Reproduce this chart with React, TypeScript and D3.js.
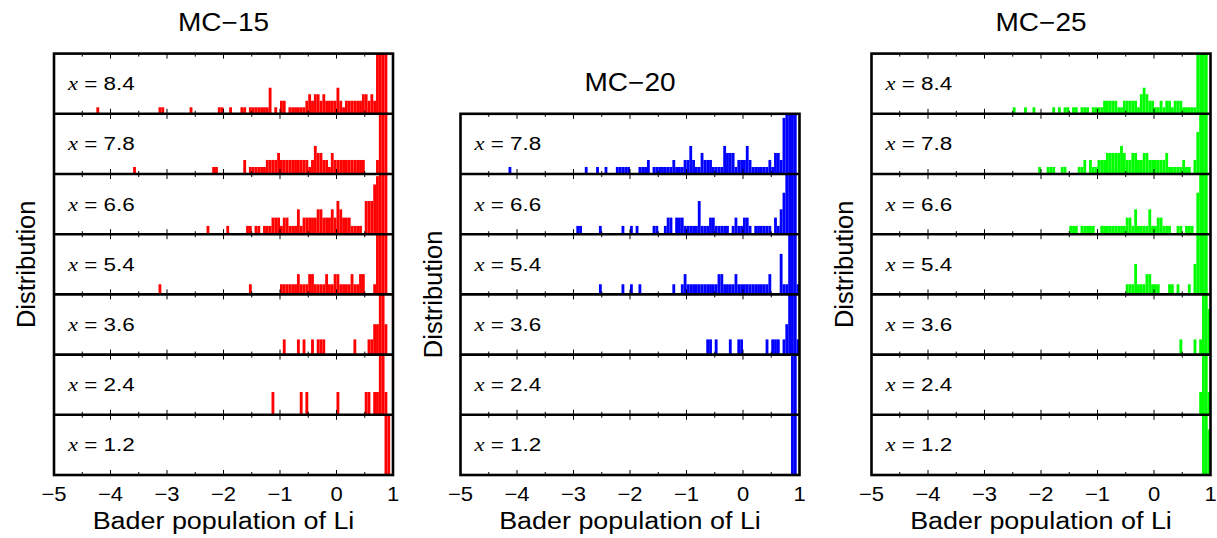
import React from "react";
import * as d3 from "d3";

// ---------- DATA ----------
const BIN = 0.05; // histogram bin width (Bader population units)
const xTickValues = [-5, -4, -3, -2, -1, 0, 1];
const panelTitles = ["MC−15", "MC−20", "MC−25"];
const mc15Labels = [8.4, 7.8, 6.6, 5.4, 3.6, 2.4, 1.2];
const mc20Labels = [7.8, 6.6, 5.4, 3.6, 2.4, 1.2];
const mc25Labels = [8.4, 7.8, 6.6, 5.4, 3.6, 2.4, 1.2];

// [bin start, count]
const mc15_84: [number, number][] = [[-4.25,1],[-3.15,1],[-3.1,1],[-2.6,1],[-2.1,1],[-2.05,1],[-1.9,1],[-1.7,1],[-1.65,1],[-1.55,1],[-1.5,1],[-1.45,1],[-1.4,1],[-1.35,1],[-1.3,1],[-1.25,1],[-1.2,4],[-1.1,1],[-1.0,2],[-0.95,2],[-0.85,1],[-0.8,1],[-0.75,1],[-0.7,1],[-0.65,1],[-0.6,1],[-0.55,2],[-0.5,3],[-0.45,2],[-0.4,3],[-0.35,3],[-0.3,2],[-0.25,3],[-0.2,2],[-0.15,2],[-0.1,2],[-0.05,2],[0,4],[0.05,2],[0.1,1],[0.15,2],[0.2,2],[0.25,2],[0.3,2],[0.35,2],[0.4,2],[0.45,3],[0.5,3],[0.55,2],[0.6,3],[0.65,2],[0.7,30],[0.75,30],[0.8,30],[0.85,30]];
const mc15_78: [number, number][] = [[-3.6,1],[-2.2,1],[-2.15,1],[-1.65,2],[-1.55,1],[-1.5,1],[-1.45,1],[-1.4,1],[-1.35,1],[-1.3,1],[-1.25,2],[-1.2,2],[-1.15,2],[-1.1,2],[-1.05,3],[-1.0,2],[-0.95,2],[-0.9,2],[-0.85,2],[-0.8,2],[-0.75,2],[-0.7,2],[-0.65,2],[-0.6,2],[-0.55,2],[-0.5,1],[-0.45,2],[-0.4,4],[-0.35,3],[-0.3,3],[-0.25,2],[-0.2,2],[-0.15,1],[-0.1,3],[-0.05,2],[0,2],[0.05,2],[0.1,2],[0.15,2],[0.2,2],[0.25,2],[0.3,2],[0.35,2],[0.4,2],[0.45,2],[0.7,2],[0.75,30],[0.8,30],[0.85,30]];
const mc15_66: [number, number][] = [[-2.3,1],[-1.95,1],[-1.6,1],[-1.55,1],[-1.45,1],[-1.4,1],[-1.3,1],[-1.25,1],[-1.2,1],[-1.15,2],[-1.1,2],[-1.05,2],[-1.0,1],[-0.95,2],[-0.9,2],[-0.85,1],[-0.8,1],[-0.75,1],[-0.7,3],[-0.65,1],[-0.6,2],[-0.55,2],[-0.5,2],[-0.45,2],[-0.4,2],[-0.35,3],[-0.3,3],[-0.25,2],[-0.2,2],[-0.15,2],[-0.1,3],[-0.05,2],[0,4],[0.05,3],[0.1,2],[0.15,2],[0.2,2],[0.25,1],[0.3,1],[0.35,1],[0.4,1],[0.5,4],[0.55,4],[0.6,4],[0.65,6],[0.7,7],[0.75,30],[0.8,30],[0.85,30]];
const mc15_54: [number, number][] = [[-3.15,1],[-1.55,1],[-1.0,1],[-0.95,1],[-0.9,1],[-0.85,1],[-0.8,1],[-0.75,1],[-0.7,2],[-0.65,1],[-0.6,1],[-0.55,1],[-0.5,2],[-0.45,2],[-0.4,1],[-0.35,1],[-0.3,1],[-0.25,1],[-0.2,2],[-0.15,1],[-0.1,1],[-0.05,2],[0,2],[0.05,1],[0.1,1],[0.15,1],[0.2,1],[0.25,2],[0.3,1],[0.35,1],[0.4,2],[0.45,2],[0.65,1],[0.7,6],[0.75,30],[0.8,30],[0.85,30]];
const mc15_36: [number, number][] = [[-0.95,1],[-0.7,1],[-0.6,1],[-0.45,1],[-0.35,1],[-0.3,1],[-0.25,1],[0.3,1],[0.55,1],[0.6,1],[0.65,2],[0.7,2],[0.75,30],[0.8,30],[0.85,2]];
const mc15_24: [number, number][] = [[-1.15,1],[-0.65,1],[-0.55,1],[0,1],[0.5,1],[0.55,1],[0.65,1],[0.7,1],[0.75,30],[0.8,30],[0.85,1]];
const mc15_12: [number, number][] = [[0.85,30],[0.9,30]];

const mc20_78: [number, number][] = [[-4.15,1],[-2.8,1],[-2.6,1],[-2.45,1],[-2.25,1],[-2.2,1],[-2.15,1],[-2.1,1],[-2.05,1],[-1.85,1],[-1.8,1],[-1.75,1],[-1.7,2],[-1.6,1],[-1.55,1],[-1.5,1],[-1.45,1],[-1.4,1],[-1.35,1],[-1.3,1],[-1.25,2],[-1.2,1],[-1.15,1],[-1.1,1],[-1.05,2],[-1.0,2],[-0.95,4],[-0.9,2],[-0.85,1],[-0.8,1],[-0.75,3],[-0.7,2],[-0.65,2],[-0.6,2],[-0.55,1],[-0.5,1],[-0.45,1],[-0.4,1],[-0.35,4],[-0.3,3],[-0.25,3],[-0.2,3],[-0.15,1],[-0.1,2],[-0.05,2],[0,2],[0.05,4],[0.1,2],[0.15,1],[0.2,1],[0.25,1],[0.3,1],[0.35,1],[0.4,1],[0.45,2],[0.5,1],[0.55,3],[0.6,3],[0.65,2],[0.7,8],[0.75,30],[0.8,30],[0.85,30],[0.9,30]];
const mc20_66: [number, number][] = [[-2.95,1],[-2.9,1],[-2.55,1],[-2.15,1],[-2.0,1],[-1.9,1],[-1.6,1],[-1.55,1],[-1.4,1],[-1.35,2],[-1.3,2],[-1.2,2],[-1.15,2],[-1.1,2],[-1.05,1],[-1.0,1],[-0.95,1],[-0.9,1],[-0.85,1],[-0.8,4],[-0.75,1],[-0.7,1],[-0.65,1],[-0.6,2],[-0.55,2],[-0.5,1],[-0.45,1],[-0.4,1],[-0.35,1],[-0.3,1],[-0.2,1],[-0.15,2],[-0.1,1],[-0.05,1],[0,2],[0.05,2],[0.1,1],[0.2,1],[0.25,1],[0.3,1],[0.35,1],[0.4,1],[0.45,1],[0.55,2],[0.6,1],[0.65,3],[0.7,5],[0.75,8],[0.8,30],[0.85,30],[0.9,30]];
const mc20_54: [number, number][] = [[-2.55,1],[-2.15,1],[-2.0,1],[-1.85,1],[-1.25,1],[-1.1,1],[-1.05,2],[-1.0,1],[-0.95,1],[-0.9,1],[-0.85,1],[-0.8,1],[-0.75,1],[-0.7,1],[-0.65,1],[-0.6,1],[-0.55,1],[-0.5,1],[-0.45,2],[-0.4,2],[-0.35,1],[-0.3,1],[-0.25,1],[-0.2,1],[-0.15,2],[-0.1,1],[-0.05,1],[0,1],[0.05,1],[0.1,1],[0.15,1],[0.2,1],[0.25,1],[0.3,1],[0.35,1],[0.4,1],[0.45,2],[0.65,4],[0.7,1],[0.75,1],[0.8,30],[0.85,30],[0.9,30],[0.95,1]];
const mc20_36: [number, number][] = [[-0.65,1],[-0.6,1],[-0.5,1],[-0.25,1],[-0.1,1],[-0.05,1],[0.4,1],[0.5,1],[0.55,1],[0.6,1],[0.7,1],[0.75,2],[0.8,30],[0.85,30],[0.9,30],[0.95,1]];
const mc20_24: [number, number][] = [[0.85,30],[0.9,30]];
const mc20_12: [number, number][] = [[0.85,30],[0.9,30]];

const mc25_84: [number, number][] = [[-2.5,1],[-2.3,1],[-2.15,1],[-1.8,1],[-1.7,1],[-1.6,1],[-1.55,1],[-1.45,1],[-1.4,1],[-1.3,1],[-1.25,1],[-1.2,1],[-1.1,1],[-1.05,1],[-1.0,1],[-0.95,1],[-0.9,2],[-0.85,2],[-0.8,2],[-0.75,2],[-0.7,2],[-0.65,1],[-0.6,1],[-0.55,2],[-0.5,2],[-0.45,2],[-0.4,2],[-0.35,2],[-0.3,1],[-0.25,3],[-0.2,4],[-0.15,3],[-0.1,2],[-0.05,2],[0,1],[0.05,1],[0.1,2],[0.15,1],[0.2,2],[0.25,2],[0.3,1],[0.35,2],[0.4,2],[0.45,2],[0.5,1],[0.55,1],[0.6,1],[0.65,1],[0.7,1],[0.75,30],[0.8,30],[0.85,30],[0.9,30]];
const mc25_78: [number, number][] = [[-2.05,1],[-1.9,1],[-1.85,1],[-1.8,1],[-1.65,1],[-1.6,1],[-1.35,1],[-1.3,1],[-1.25,2],[-1.15,2],[-1.1,1],[-1.05,1],[-1.0,2],[-0.95,2],[-0.9,2],[-0.85,3],[-0.8,3],[-0.75,3],[-0.7,3],[-0.65,3],[-0.6,4],[-0.55,3],[-0.5,2],[-0.45,2],[-0.4,3],[-0.35,3],[-0.3,2],[-0.25,2],[-0.2,3],[-0.15,3],[-0.1,2],[-0.05,2],[0,2],[0.05,2],[0.1,2],[0.15,2],[0.2,3],[0.25,1],[0.3,1],[0.35,1],[0.4,1],[0.45,1],[0.5,2],[0.55,1],[0.6,1],[0.7,2],[0.75,6],[0.8,30],[0.85,30],[0.9,30]];
const mc25_66: [number, number][] = [[-1.5,1],[-1.45,1],[-1.4,1],[-1.3,1],[-1.25,1],[-1.2,1],[-1.15,1],[-1.1,1],[-0.95,1],[-0.9,1],[-0.85,1],[-0.8,1],[-0.75,1],[-0.7,1],[-0.65,1],[-0.6,1],[-0.55,1],[-0.5,2],[-0.45,2],[-0.4,1],[-0.35,3],[-0.3,1],[-0.25,1],[-0.2,1],[-0.15,1],[-0.1,3],[-0.05,1],[0,1],[0.05,2],[0.1,2],[0.15,1],[0.2,1],[0.25,1],[0.4,1],[0.45,1],[0.55,1],[0.6,1],[0.65,1],[0.75,5],[0.8,30],[0.85,30],[0.9,30]];
const mc25_54: [number, number][] = [[-0.5,1],[-0.45,1],[-0.4,1],[-0.35,3],[-0.3,1],[-0.25,1],[-0.2,1],[-0.15,2],[-0.1,2],[-0.05,1],[0,1],[0.05,1],[0.25,1],[0.3,1],[0.4,1],[0.6,1],[0.7,3],[0.75,30],[0.8,30],[0.85,30],[0.9,30]];
const mc25_36: [number, number][] = [[0.45,1],[0.7,1],[0.8,1],[0.85,30],[0.9,30],[0.95,3]];
const mc25_24: [number, number][] = [[0.8,1],[0.85,30],[0.9,30],[0.95,1]];
const mc25_12: [number, number][] = [[0.85,30],[0.9,30],[0.95,1]];

const mc15Rows = [mc15_84, mc15_78, mc15_66, mc15_54, mc15_36, mc15_24, mc15_12];
const mc20Rows = [mc20_78, mc20_66, mc20_54, mc20_36, mc20_24, mc20_12];
const mc25Rows = [mc25_84, mc25_78, mc25_66, mc25_54, mc25_36, mc25_24, mc25_12];

// ---------- LAYOUT ----------
const WIDTH = 1217;
const HEIGHT = 538;
const PANEL_W = 339;
const ROW_H = 60.2;
const BOTTOM = 475;
const DENSITY_MAX = 1.1; // count / x shown over a row height
const SANS = "'Liberation Sans', Arial, Helvetica, sans-serif";
const SERIF = "'Liberation Serif', 'Times New Roman', serif";

const panels = [
  { title: panelTitles[0], left: 54, labels: mc15Labels, rows: mc15Rows, color: "#ff0000" },
  { title: panelTitles[1], left: 460.5, labels: mc20Labels, rows: mc20Rows, color: "#0000ff" },
  { title: panelTitles[2], left: 871.5, labels: mc25Labels, rows: mc25Rows, color: "#00ff00" },
];

function SText({ x, y, size, anchor = "start", sx = 1.1, children }: any) {
  return (
    <g transform={`translate(${x},${y}) scale(${sx},1)`}>
      <text x={0} y={0} textAnchor={anchor} fontFamily={SANS} fontSize={size} fill="#000">
        {children}
      </text>
    </g>
  );
}

function Panel({ p, idx }: { p: typeof panels[number]; idx: number }) {
  const n = p.rows.length;
  const top = BOTTOM - n * ROW_H;
  const x = d3.scaleLinear().domain([-5, 1]).range([p.left, p.left + PANEL_W]);
  const binPx = x(BIN) - x(0);
  const minorTicks = d3.range(-4.5, 1, 0.5);
  const cx = p.left + PANEL_W / 2;
  const clipId = `clip-${idx}`;
  return (
    <g>
      <defs>
        <clipPath id={clipId}>
          <rect x={p.left} y={top} width={PANEL_W} height={n * ROW_H} />
        </clipPath>
      </defs>
      <SText x={cx} y={top - 23} size={25} sx={1.12} anchor="middle">{p.title}</SText>
      {p.rows.map((bins, i) => {
        const rTop = top + i * ROW_H;
        const rBot = rTop + ROW_H;
        const xv = p.labels[i];
        const y = d3.scaleLinear().domain([0, DENSITY_MAX]).range([rBot, rTop]).clamp(true);
        return (
          <g key={i}>
            <g clipPath={`url(#${clipId})`}>
              {bins.map(([b, c], j) => (
                <rect
                  key={j}
                  x={x(b)}
                  width={binPx}
                  y={y(c / xv)}
                  height={rBot - y(c / xv)}
                  fill={p.color}
                />
              ))}
            </g>
            {minorTicks.map((t) => {
              const major = Number.isInteger(t);
              const len = major ? 5 : 3;
              return (
                <g key={t}>
                  <line x1={x(t)} x2={x(t)} y1={rTop} y2={rTop + len} stroke="#000" strokeWidth={1} />
                  <line x1={x(t)} x2={x(t)} y1={rBot} y2={rBot - len} stroke="#000" strokeWidth={1} />
                </g>
              );
            })}
            <g transform={`translate(${p.left + 14},${rTop + 36.5}) scale(1.18,1)`}>
              <text x={0} y={0} fontSize={19} fill="#000">
                <tspan fontFamily={SERIF} fontStyle="italic">x</tspan>
                <tspan fontFamily={SANS}>{` = ${xv.toFixed(1)}`}</tspan>
              </text>
            </g>
            {i > 0 && (
              <line x1={p.left} x2={p.left + PANEL_W} y1={rTop} y2={rTop} stroke="#000" strokeWidth={2.6} />
            )}
          </g>
        );
      })}
      <rect x={p.left} y={top} width={PANEL_W} height={n * ROW_H} fill="none" stroke="#000" strokeWidth={2.6} />
      {xTickValues.map((t) => (
        <SText key={t} x={x(t)} y={501} size={20} sx={1.1} anchor="middle">
          {t < 0 ? `−${Math.abs(t)}` : `${t}`}
        </SText>
      ))}
      <SText x={cx} y={529} size={23} sx={1.17} anchor="middle">Bader population of Li</SText>
      <text
        transform={`translate(${p.left - 19},${(top + BOTTOM) / 2}) rotate(-90)`}
        textAnchor="middle"
        fontFamily={SANS}
        fontSize={25.5}
      >
        Distribution
      </text>
    </g>
  );
}

export default function App() {
  return (
    <svg
      width={WIDTH}
      height={HEIGHT}
      style={{ position: "absolute", left: 0, top: 0, background: "#fff" }}
    >
      <rect width={WIDTH} height={HEIGHT} fill="#fff" />
      {panels.map((p, i) => (
        <Panel key={i} p={p} idx={i} />
      ))}
    </svg>
  );
}
